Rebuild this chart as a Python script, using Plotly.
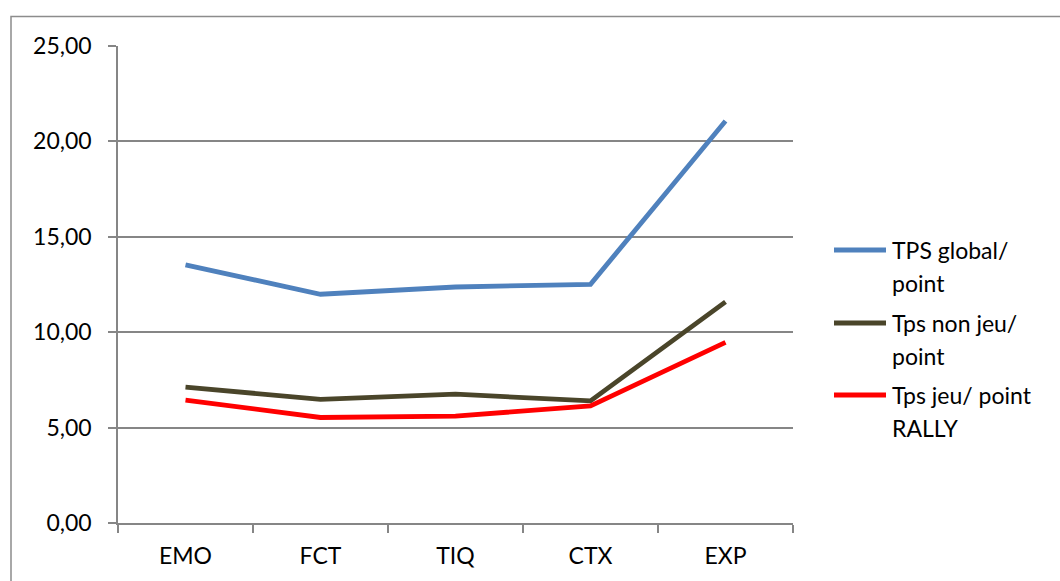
import plotly.graph_objects as go

# Categories and series values
categories = ["EMO", "FCT", "TIQ", "CTX", "EXP"]
tps_global = [13.53, 11.99, 12.37, 12.51, 21.07]
tps_non_jeu = [7.12, 6.48, 6.75, 6.40, 11.59]
tps_jeu = [6.44, 5.53, 5.60, 6.14, 9.47]

series_names = ["TPS global/ point", "Tps non jeu/ point", "Tps jeu/ point RALLY"]
series_lines = [["TPS global/", "point"], ["Tps non jeu/", "point"], ["Tps jeu/ point", "RALLY"]]
series_values = [tps_global, tps_non_jeu, tps_jeu]
series_colors = ["#4F81BD", "#4A452A", "#FF0000"]

y_ticks = [0, 5, 10, 15, 20, 25]

FONT = "Lato"
FSIZE = 23
GRID = "#868686"

W, H = 1060, 581
ML, MR, MT, MB = 118, 267, 46, 58
PW, PH = W - ML - MR, H - MT - MB


def px_to_paper_x(px):
    return (px - ML) / PW


def px_to_paper_y(py):
    return (H - MB - py) / PH


fig = go.Figure()
for name, vals, color in zip(series_names, series_values, series_colors):
    fig.add_trace(go.Scatter(
        x=categories, y=vals, mode="lines", name=name,
        line=dict(color=color, width=4.8), showlegend=False,
    ))

shapes = [
    # outer chart border
    dict(type="rect", xref="paper", yref="paper",
         x0=px_to_paper_x(11), x1=px_to_paper_x(1100),
         y0=px_to_paper_y(620), y1=px_to_paper_y(16.5),
         line=dict(color="#8C8C8C", width=1.5), fillcolor="rgba(0,0,0,0)", layer="below"),
]
annotations = []

# legend drawn at the right of the plot
legend_rows = [(250, 283), (323, 356), (395, 428)]
for (y1, y2), lines, color in zip(legend_rows, series_lines, series_colors):
    shapes.append(dict(type="line", xref="paper", yref="paper",
                       x0=px_to_paper_x(834), x1=px_to_paper_x(886),
                       y0=px_to_paper_y(y1), y1=px_to_paper_y(y1),
                       line=dict(color=color, width=4.8)))
    for yy, txt in zip((y1, y2), lines):
        annotations.append(dict(xref="paper", yref="paper",
                                x=px_to_paper_x(890), y=px_to_paper_y(yy),
                                text=txt, showarrow=False, xanchor="left", yanchor="middle",
                                font=dict(family=FONT, size=FSIZE, color="#000000")))

fig.update_layout(
    width=W, height=H,
    margin=dict(l=ML, r=MR, t=MT, b=MB, pad=0),
    paper_bgcolor="white", plot_bgcolor="white",
    separators=", ",
    font=dict(family=FONT, size=FSIZE, color="#000000"),
    shapes=shapes, annotations=annotations,
    showlegend=False,
)

fig.update_xaxes(
    type="category", range=[-0.5, 4.5],
    tickson="boundaries", ticks="outside", ticklen=8, tickwidth=1.5, tickcolor=GRID,
    showline=True, linecolor=GRID, linewidth=1.5,
    showgrid=False, ticklabelstandoff=12,
    tickfont=dict(family=FONT, size=FSIZE),
)
fig.update_yaxes(
    range=[0, 25], tickvals=y_ticks, tickformat=".2f",
    ticks="outside", ticklen=8, tickwidth=1.5, tickcolor=GRID,
    showline=True, linecolor=GRID, linewidth=1.5,
    showgrid=True, gridcolor=GRID, gridwidth=1.5, zeroline=False,
    ticklabelstandoff=12,
    tickfont=dict(family=FONT, size=FSIZE),
)

fig.write_html("out.html")
